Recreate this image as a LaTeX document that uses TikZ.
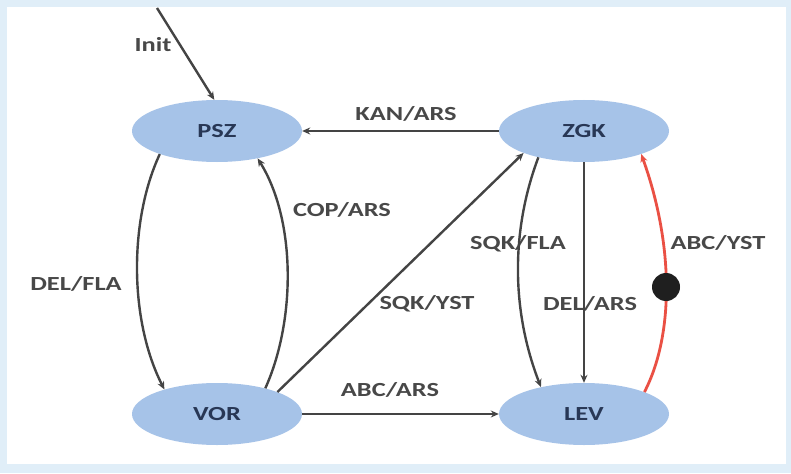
\documentclass[tikz,border=0pt]{standalone}
\usepackage{fontspec}
\setmainfont{Carlito}[FakeStretch=1.32]
\usetikzlibrary{shapes.geometric,arrows.meta}
\definecolor{frameblue}{RGB}{224,238,248}
\definecolor{nodefill}{RGB}{166,195,232}
\definecolor{nodetext}{RGB}{40,55,85}
\definecolor{labtext}{RGB}{72,72,72}
\definecolor{linegray}{RGB}{68,68,68}
\definecolor{arcred}{RGB}{234,80,68}
\tikzset{
  state/.style={ellipse, fill=nodefill, draw=none, minimum width=170pt, minimum height=62pt, inner sep=0pt, text=nodetext, font=\fontsize{20}{24}\selectfont\bfseries},
  lab/.style={text=labtext, font=\fontsize{20}{24}\selectfont\bfseries, inner sep=0pt},
  conn/.style={draw=linegray, line width=2.4pt, -{Stealth[length=8pt,width=7pt]}},
  redconn/.style={draw=arcred, line width=2.8pt, -{Stealth[length=8pt,width=7pt]}},
  blob/.style={circle, fill=black!88, draw=none, minimum size=28pt, inner sep=0pt}
}
\begin{document}
\begin{tikzpicture}[x=1pt,y=-1pt]
\fill[frameblue] (0,0) rectangle (791,473);
\fill[white] (7,7) rectangle (786,464);
\useasboundingbox (0,0) rectangle (791,473);

\node[state] (psz) at (217,131) {PSZ};
\node[state] (zgk) at (584,131) {ZGK};
\node[state] (vor) at (217,414) {VOR};
\node[state] (lev) at (584,414) {LEV};

\coordinate (initstart) at (157,8);

\node[lab] (linit) at (153,45) {Init};
\node[lab] (lkan) at (406,114) {KAN/ARS};
\node[lab] (lcop) at (342,210) {COP/ARS};
\node[lab] (ldelfla) at (76,284) {DEL/FLA};
\node[lab] (lsqkyst) at (427,304) {SQK/YST};
\node[lab] (labcars) at (390,390) {ABC/ARS};
\node[lab] (lsqkfla) at (518,244) {SQK/FLA};
\node[lab] (ldelars) at (590,304) {DEL/ARS};
\node[lab] (labcyst) at (718,243) {ABC/YST};

\draw[conn] (initstart) -- (psz.95);
\draw[conn] (zgk.west) -- (psz.east);
\draw[conn] (psz.202) .. controls (129,220) and (129,320) .. (vor.155);
\draw[conn] (vor.28) .. controls (296,320) and (296,220) .. (psz.326);
\draw[conn] (vor.20) -- (zgk.200);
\draw[conn] (vor.east) -- (lev.west);
\draw[conn] (zgk.210) .. controls (511,230) and (511,310) .. (lev.148);
\draw[conn] (zgk.south) -- (lev.north);
\draw[redconn] (lev.20) .. controls (674,335) and (674,245) .. (zgk.338);
\node[blob] (dot) at (666,287) {};
\end{tikzpicture}
\end{document}
